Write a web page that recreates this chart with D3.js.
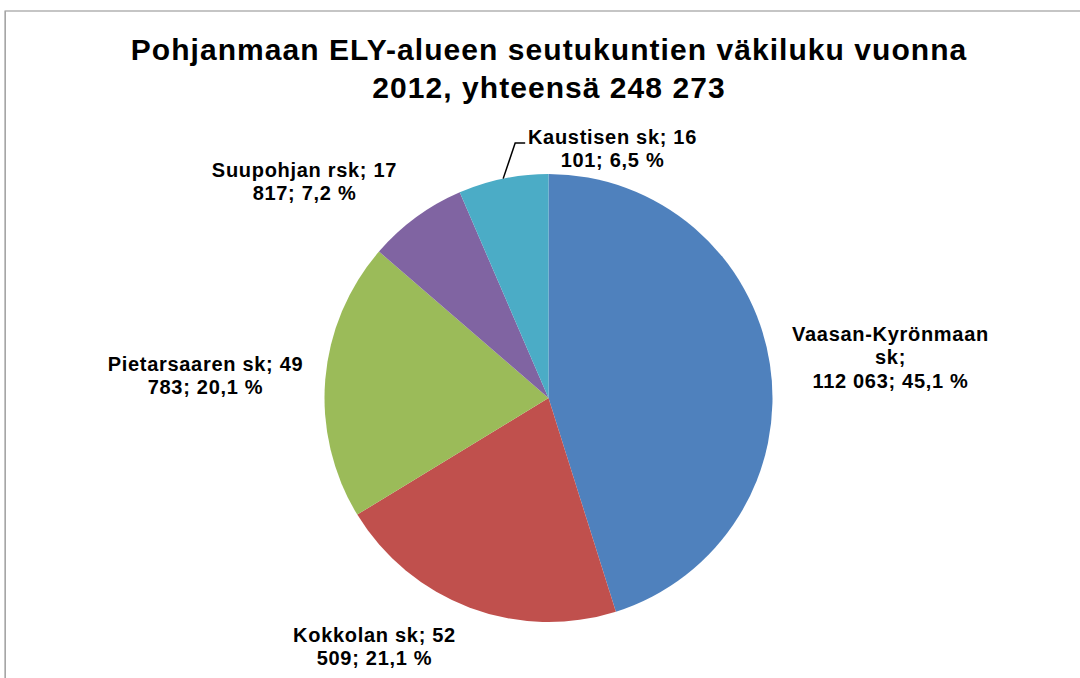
<!DOCTYPE html>
<html>
<head>
<meta charset="utf-8">
<title>Pohjanmaan ELY-alue</title>
<style>
body { margin: 0; background: #fff; }
text { font-family: Arial, "Liberation Sans", sans-serif; font-weight: bold; fill: #000; }
</style>
</head>
<body>
<script src="https://cdn.jsdelivr.net/npm/d3@7"></script>
<script>

// data
var regions = ["Vaasan-Kyrönmaan sk", "Kokkolan sk", "Pietarsaaren sk", "Suupohjan rsk", "Kaustisen sk"];
var population = [112063, 52509, 49783, 17817, 16101];
var colors = ["#4F81BD", "#C0504D", "#9BBB59", "#8064A2", "#4BACC6"];
var titleLines = ["Pohjanmaan ELY-alueen seutukuntien väkiluku vuonna", "2012, yhteensä 248 273"];

// label lines as Excel wrapped them
var labelLines = [
  ["Vaasan-Kyrönmaan", "sk;", "112 063; 45,1 %"],
  ["Kokkolan sk; 52", "509; 21,1 %"],
  ["Pietarsaaren sk; 49", "783; 20,1 %"],
  ["Suupohjan rsk; 17", "817; 7,2 %"],
  ["Kaustisen sk; 16", "101; 6,5 %"]
];
// label centre relative to pie centre
var labelOffset = [[342, -41], [-174, 248.5], [-343, -22.5], [-244, -216.5], [64, -249.5]];

var width = 1080, height = 678;
var cx = 548.5, cy = 398, r = 224;

var svg = d3.select("body").append("svg")
    .attr("width", width)
    .attr("height", height);

// chart frame
svg.append("rect")
    .attr("x", 5).attr("y", 11)
    .attr("width", 1100).attr("height", 700)
    .attr("fill", "none")
    .attr("stroke", "#8c8c8c")
    .attr("stroke-width", 1);
svg.append("line")
    .attr("x1", 5.5).attr("x2", 5.5)
    .attr("y1", 11).attr("y2", height)
    .attr("stroke", "#a6a6a6")
    .attr("stroke-width", 1);

// title
svg.append("g").selectAll("text")
    .data(titleLines)
    .enter().append("text")
    .attr("x", 549)
    .attr("y", function(d, i) { return 60 + i * 38; })
    .attr("text-anchor", "middle")
    .style("font-size", "30px")
    .style("letter-spacing", "1.05px")
    .text(function(d) { return d; });

var pie = d3.pie().sort(null).value(function(d) { return d; });
var arcs = pie(population);

var arc = d3.arc().innerRadius(0).outerRadius(r);
var edge = d3.arc().innerRadius(r).outerRadius(r);

var g = svg.append("g").attr("transform", "translate(" + cx + "," + cy + ")");

g.selectAll("path.slice")
    .data(arcs)
    .enter().append("path")
    .attr("class", "slice")
    .attr("d", arc)
    .attr("fill", function(d, i) { return colors[i]; });

// leader line for the small Kaustisen slice
var last = arcs.length - 1;
var p0 = edge.centroid(arcs[last]);
var lo = labelOffset[last];
g.append("path")
    .attr("d", "M" + p0[0] + "," + p0[1] +
               "L" + (p0[0] + 12) + "," + (lo[1] - 5.5) +
               "L" + (p0[0] + 22) + "," + (lo[1] - 5.5))
    .attr("fill", "none")
    .attr("stroke", "#000")
    .attr("stroke-width", 1.5);

// data labels
var lineH = 23.5;
var labels = g.selectAll("text.label")
    .data(arcs)
    .enter().append("text")
    .attr("class", "label")
    .attr("text-anchor", "middle")
    .style("font-size", "20px")
    .style("letter-spacing", "0.7px")
    .attr("transform", function(d, i) {
      var n = labelLines[i].length;
      var top = labelOffset[i][1] - (n - 1) * lineH / 2 + 7;
      return "translate(" + labelOffset[i][0] + "," + top + ")";
    });

labels.selectAll("tspan")
    .data(function(d, i) { return labelLines[i]; })
    .enter().append("tspan")
    .attr("x", 0)
    .attr("dy", function(d, j) { return j == 0 ? 0 : lineH; })
    .text(function(d) { return d; });

</script>
</body>
</html>
